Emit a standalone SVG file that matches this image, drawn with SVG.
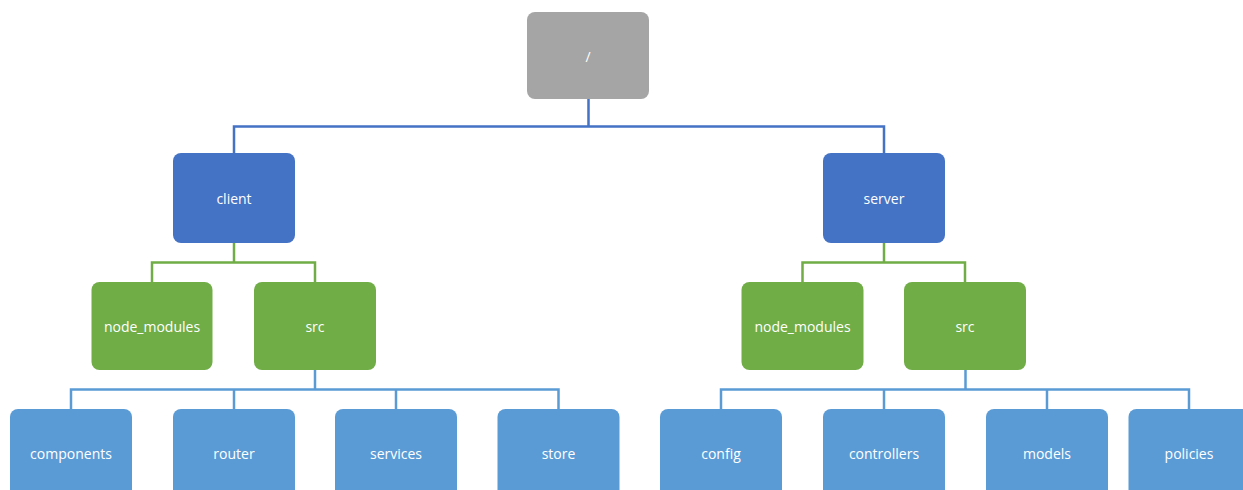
<svg xmlns="http://www.w3.org/2000/svg" width="1243" height="490" viewBox="0 0 1243 490">
<style>
.n rect{rx:8px;ry:8px}
.root rect{fill:#A5A5A5}
.l1 rect{fill:#4472C4}
.l2 rect{fill:#70AD47}
.l3 rect{fill:#5B9BD5}
text{font-family:"Open Sans","Liberation Sans",sans-serif;font-size:14px;fill:#FFFFFF;text-anchor:middle;dominant-baseline:central}
.c{fill:none;stroke-width:2.5}
.c1{stroke:#4472C4}
.c2{stroke:#70AD47}
.c3{stroke:#5B9BD5}
</style>
<rect width="1243" height="490" fill="#FFFFFF"/>
<g id="connectors">
<path class="c c1" d="M588.5,99 V126.5 M234,153 V126.5 H884 V153"/>
<path class="c c2" d="M234,243 V262.5 M152,282 V262.5 H315 V282"/>
<path class="c c2" d="M884,243 V262.5 M802.5,282 V262.5 H965 V282"/>
<path class="c c3" d="M315,370 V389.5 M71,409 V389.5 H558.5 V409 M234,389.5 V409 M396,389.5 V409"/>
<path class="c c3" d="M965.5,370 V389.5 M721,409 V389.5 H1189 V409 M884,389.5 V409 M1047,389.5 V409"/>
</g>
<g id="root" class="n root"><rect x="527" y="12" width="122" height="87"/><text x="588" y="56">/</text></g>
<g id="client" class="n l1"><rect x="173" y="153" width="122" height="90"/><text x="234" y="198">client</text></g>
<g id="server" class="n l1"><rect x="823" y="153" width="122" height="90"/><text x="884" y="198">server</text></g>
<g id="client_node_modules" class="n l2"><rect x="91.5" y="282" width="121" height="88"/><text x="152" y="326">node_modules</text></g>
<g id="client_src" class="n l2"><rect x="254" y="282" width="122" height="88"/><text x="315" y="326">src</text></g>
<g id="server_node_modules" class="n l2"><rect x="741.5" y="282" width="122" height="88"/><text x="802.5" y="326">node_modules</text></g>
<g id="server_src" class="n l2"><rect x="904" y="282" width="122" height="88"/><text x="965" y="326">src</text></g>
<g id="components" class="n l3"><rect x="10" y="409" width="122" height="89"/><text x="71" y="453">components</text></g>
<g id="router" class="n l3"><rect x="173" y="409" width="122" height="89"/><text x="234" y="453">router</text></g>
<g id="services" class="n l3"><rect x="335" y="409" width="122" height="89"/><text x="396" y="453">services</text></g>
<g id="store" class="n l3"><rect x="497.5" y="409" width="122" height="89"/><text x="558.5" y="453">store</text></g>
<g id="config" class="n l3"><rect x="660" y="409" width="122" height="89"/><text x="721" y="453">config</text></g>
<g id="controllers" class="n l3"><rect x="823" y="409" width="122" height="89"/><text x="884" y="453">controllers</text></g>
<g id="models" class="n l3"><rect x="986" y="409" width="122" height="89"/><text x="1047" y="453">models</text></g>
<g id="policies" class="n l3"><rect x="1128.5" y="409" width="122" height="89"/><text x="1189" y="453">policies</text></g>
</svg>
